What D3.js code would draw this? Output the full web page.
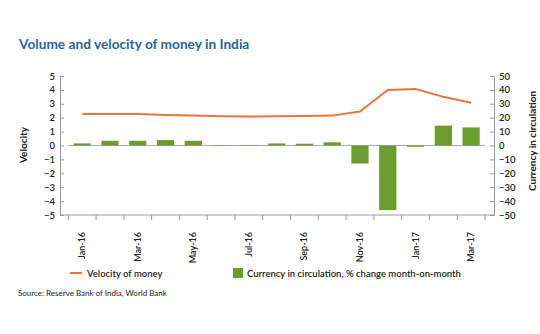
<!DOCTYPE html>
<html>
<head>
<meta charset="utf-8">
<script src="https://cdn.jsdelivr.net/npm/d3@7"></script>
<style>
	body { margin: 0; background: #fff; }
	text { font-family: Lato, "Open Sans", sans-serif; }
</style>
</head>
<body>
<div id="graphicContainer"></div>
<script>

// months Jan-16 .. Mar-17
var months = ["Jan-16","Feb-16","Mar-16","Apr-16","May-16","Jun-16","Jul-16","Aug-16","Sep-16","Oct-16","Nov-16","Dec-16","Jan-17","Feb-17","Mar-17"]

// velocity of money (left axis)
var velocity = [2.27, 2.27, 2.27, 2.2, 2.15, 2.1, 2.08, 2.1, 2.13, 2.15, 2.45, 4.0, 4.07, 3.5, 3.07]

// currency in circulation, % change month-on-month (right axis)
var currency = [1.5, 3.4, 3.4, 3.9, 3.4, -0.3, -0.3, 1.5, 1.3, 2.3, -13, -46.5, -0.9, 14.3, 13]

var leftTicks = [5,4,3,2,1,0,-1,-2,-3,-4,-5]
var rightTicks = [50,40,30,20,10,0,-10,-20,-30,-40,-50]
var labelMonths = ["Jan-16","Mar-16","May-16","Jul-16","Sep-16","Nov-16","Jan-17","Mar-17"]

function init() {

	var width = 540
	var height = 334

	var svg = d3.select("#graphicContainer").append("svg")
		.attr("width", width)
		.attr("height", height)

	var plotLeft = 60, plotRight = 494, plotTop = 76, plotBottom = 215

	var x = d3.scaleBand()
		.domain(months)
		.range([68.3, 485])
		.padding(0)

	var yL = d3.scaleLinear().domain([-5, 5]).range([plotBottom, plotTop])
	var yR = d3.scaleLinear().domain([-50, 50]).range([plotBottom, plotTop])

	// title
	svg.append("text")
		.attr("x", 19)
		.attr("y", 49)
		.attr("font-size", 13.7)
		.attr("font-weight", "bold")
		.attr("fill", "#2c63a3")
		.text("Volume and velocity of money in India")

	// left axis
	var gL = svg.append("g")
		.attr("transform", "translate(" + plotLeft + ",0)")
		.call(d3.axisLeft(yL).tickValues(leftTicks).tickSize(-4).tickPadding(5).tickFormat(d3.format("d")))

	// right axis
	var gR = svg.append("g")
		.attr("transform", "translate(" + plotRight + ",0)")
		.call(d3.axisRight(yR).tickValues(rightTicks).tickSize(-4).tickPadding(5).tickFormat(d3.format("d")))

	;[gL, gR].forEach(function(g) {
		g.select(".domain").attr("stroke", "#999")
		g.selectAll(".tick line").attr("stroke", "#999")
		g.selectAll(".tick text")
			.attr("fill", "#222")
			.attr("font-size", 9.5)
			.attr("font-weight", "600")
			.style("font-family", "Lato, sans-serif")
	})

	// bottom axis
	svg.append("line")
		.attr("x1", plotLeft).attr("x2", plotRight)
		.attr("y1", plotBottom).attr("y2", plotBottom)
		.attr("stroke", "#999")

	var tickXs = months.map(function(m) { return x(m) }).concat([x.range()[1]])

	svg.append("g").selectAll("line")
		.data(tickXs)
		.enter()
		.append("line")
		.attr("x1", d => d).attr("x2", d => d)
		.attr("y1", plotBottom).attr("y2", plotBottom + 5)
		.attr("stroke", "#999")

	svg.append("g").selectAll("text")
		.data(labelMonths)
		.enter()
		.append("text")
		.attr("transform", d => "translate(" + (x(d) + x.bandwidth() / 2 + 3) + "," + 232 + ") rotate(-90)")
		.attr("text-anchor", "end")
		.attr("font-size", 9)
		.attr("font-weight", "600")
		.attr("fill", "#222")
		.text(d => d)

	// axis titles
	svg.append("text")
		.attr("transform", "translate(27,145) rotate(-90)")
		.attr("text-anchor", "middle")
		.attr("font-size", 10)
		.attr("font-weight", "bold")
		.attr("fill", "#222")
		.text("Velocity")

	svg.append("text")
		.attr("transform", "translate(536,141) rotate(-90)")
		.attr("text-anchor", "middle")
		.attr("font-size", 10)
		.attr("font-weight", "bold")
		.attr("fill", "#222")
		.text("Currency in circulation")

	// zero line
	svg.append("line")
		.attr("x1", x.range()[0]).attr("x2", x.range()[1])
		.attr("y1", yR(0)).attr("y2", yR(0))
		.attr("stroke", "#aaa")

	// bars
	var barW = x.bandwidth() * 0.62

	svg.append("g").selectAll("rect")
		.data(currency)
		.enter()
		.append("rect")
		.attr("x", (d, i) => x(months[i]) + (x.bandwidth() - barW) / 2)
		.attr("width", barW)
		.attr("y", d => d >= 0 ? yR(d) : yR(0))
		.attr("height", d => Math.abs(yR(d) - yR(0)))
		.attr("fill", "#6a9c2e")

	// velocity line
	var line = d3.line()
		.x((d, i) => x(months[i]) + x.bandwidth() / 2)
		.y(d => yL(d))

	svg.append("path")
		.datum(velocity)
		.attr("d", line)
		.attr("fill", "none")
		.attr("stroke", "#e8773e")
		.attr("stroke-width", 2)

	// legend
	svg.append("line")
		.attr("x1", 70).attr("x2", 82)
		.attr("y1", 273).attr("y2", 273)
		.attr("stroke", "#e8773e")
		.attr("stroke-width", 2)

	svg.append("text")
		.attr("x", 87).attr("y", 276.5)
		.attr("font-size", 9.5)
		.attr("font-weight", "600")
		.attr("fill", "#222")
		.text("Velocity of money")

	svg.append("rect")
		.attr("x", 233).attr("y", 268)
		.attr("width", 10).attr("height", 10)
		.attr("fill", "#6a9c2e")

	svg.append("text")
		.attr("x", 247).attr("y", 276.5)
		.attr("font-size", 9.5)
		.attr("font-weight", "600")
		.attr("fill", "#222")
		.text("Currency in circulation, % change month-on-month")

	// source
	svg.append("text")
		.attr("x", 18).attr("y", 296)
		.attr("font-size", 8)
		.attr("fill", "#222")
		.text("Source: Reserve Bank of India, World Bank")

}

init()

</script>
</body>
</html>
